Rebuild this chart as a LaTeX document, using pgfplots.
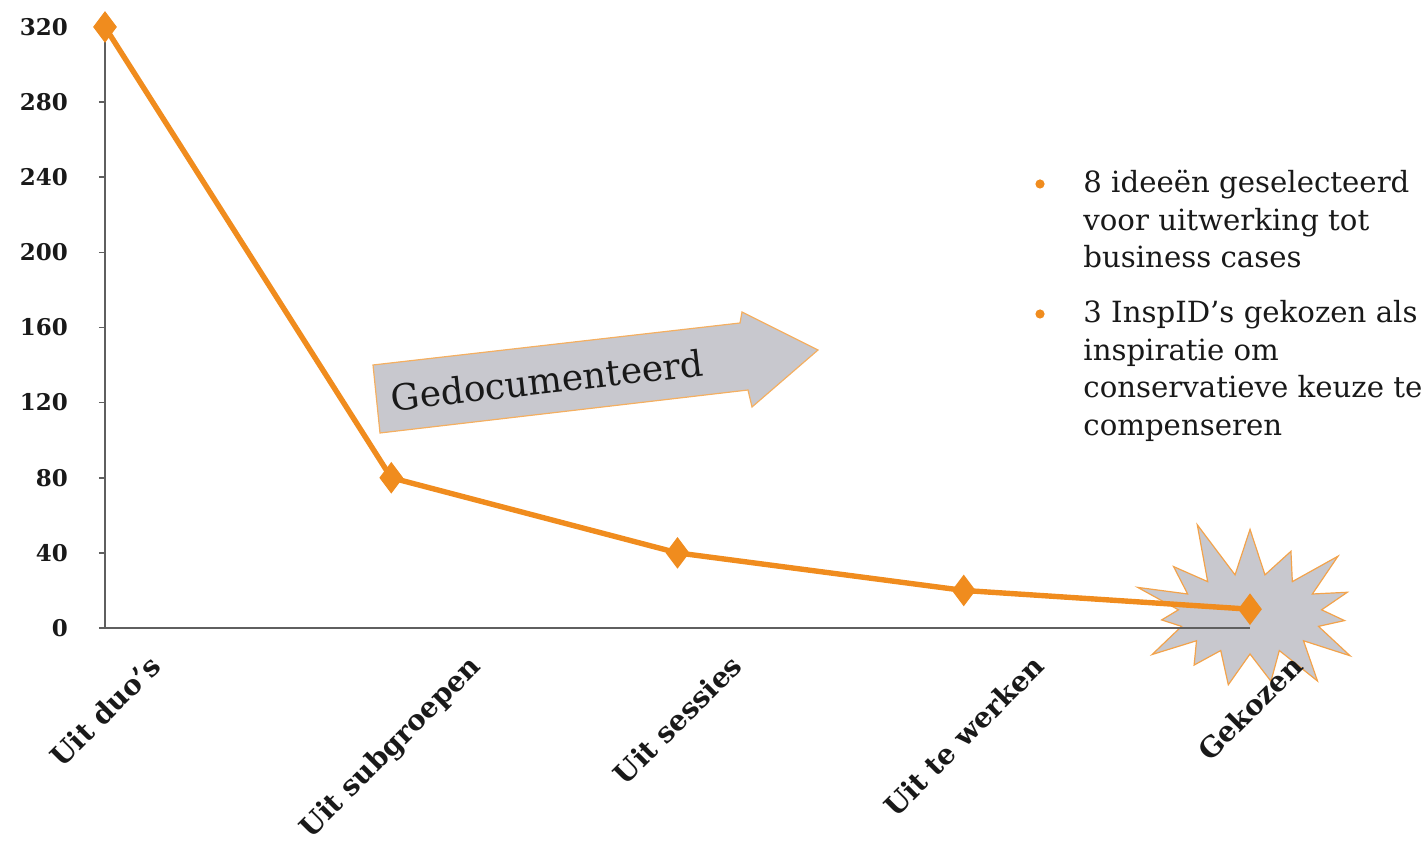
\documentclass[border=0pt]{standalone}
\usepackage{pgfplots}
\pgfplotsset{compat=1.18}
\usepackage{fontspec}
\setmainfont{DejaVu Serif}
\usetikzlibrary{shapes.symbols}
\definecolor{linor}{RGB}{240,140,30}
\definecolor{burstgray}{RGB}{200,200,206}
\definecolor{axgray}{RGB}{95,95,95}
\definecolor{txt}{RGB}{25,25,25}
\begin{document}
\begin{tikzpicture}
\path[use as bounding box] (-52.5pt,-108pt) rectangle (661.5pt,314pt);
% starburst behind the last point
\node[starburst, starburst points=15, starburst point height=30pt, random starburst=11,
      minimum width=132pt, minimum height=100pt, fill=burstgray, draw=linor!80,
      line width=0.6pt, inner sep=0pt] at (572.5pt,7pt) {};
% Gedocumenteerd arrow
\filldraw[fill=burstgray, draw=linor!70, line width=0.6pt]
  (134pt,131.5pt) -- (317.5pt,152.5pt) -- (318.5pt,158pt) -- (356.5pt,139pt)
  -- (323.5pt,110.5pt) -- (321.5pt,119pt) -- (137.5pt,97.5pt) -- cycle;
\node[rotate=6.5, text=txt, font=\fontsize{18}{22}\selectfont] at (221pt,124pt) {Gedocumenteerd};
% bullets
\fill[linor] (467.5pt,222pt) circle (2.3pt);
\fill[linor] (467.5pt,157pt) circle (2.3pt);
\begin{scope}[every node/.style={anchor=base west, inner sep=0pt, text=txt, font=\fontsize{14.6}{18}\selectfont}]
\node at (489pt,217.5pt) {8 ideeën geselecteerd};
\node at (489pt,198.5pt) {voor uitwerking tot};
\node at (489pt,180pt) {business cases};
\node at (489pt,152.5pt) {3 InspID’s gekozen als};
\node at (489pt,133.5pt) {inspiratie om};
\node at (489pt,115pt) {conservatieve keuze te};
\node at (489pt,96pt) {compenseren};
\end{scope}
\begin{axis}[
  scale only axis, width=572.5pt, height=300.5pt,
  xmin=0, xmax=4, ymin=0, ymax=320, clip=false,
  axis x line=bottom, axis y line=left,
  axis line style={-, draw=axgray, line width=1pt},
  ytick={0,40,...,320}, ytick pos=left, tick align=outside, major tick length=3pt,
  major y tick style={draw=axgray, line width=0.8pt},
  xtick={0,1,2,3,4},
  major x tick style={draw=none},
  xticklabels={{\rotatebox{45}{Uit duo's}},{\rotatebox{45}{Uit subgroepen}},{\rotatebox{45}{Uit sessies}},{\rotatebox{45}{Uit te werken}},{\rotatebox{45}{Gekozen}}},
  xticklabel style={anchor=north, yshift=-6pt, text=txt, font=\bfseries\fontsize{14}{16}\selectfont},
  yticklabel style={xshift=-12pt, text=txt, font=\bfseries\fontsize{11.5}{13}\selectfont},
  /pgf/number format/assume math mode=true,
]
\addplot[linor, line width=2.7pt, mark=diamond*, mark size=7.5pt,
  mark options={fill=linor, draw=linor, line width=0.5pt}]
  coordinates {(0,320)(1,80)(2,40)(3,20)(4,10)};
\end{axis}
\end{tikzpicture}
\end{document}
